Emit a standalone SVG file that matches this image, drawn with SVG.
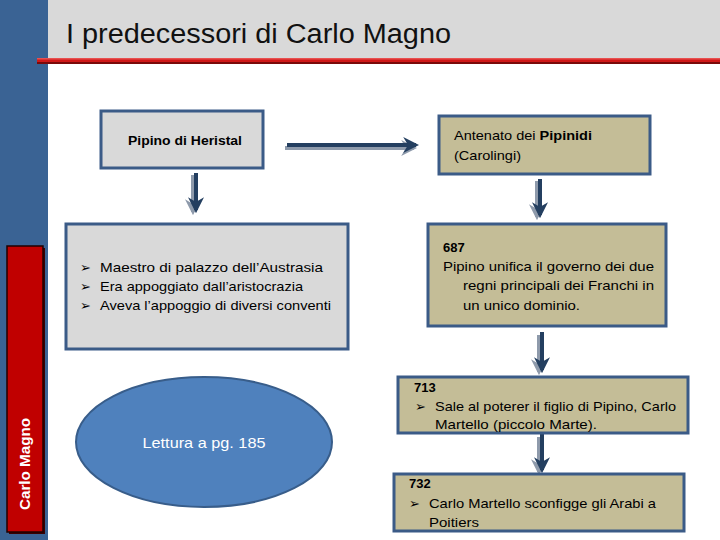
<svg xmlns="http://www.w3.org/2000/svg" width="720" height="540" viewBox="0 0 720 540">
<style>
.t{font-family:"Liberation Sans",Arial,sans-serif;font-size:13px;fill:#000}
.b{font-weight:bold}
.gray{fill:#d9d9d9;stroke:#3b5b87;stroke-width:3}
.tan{fill:#c4bd97;stroke:#3b5b87;stroke-width:3}
.shaft{stroke:#243f60;stroke-width:4;fill:none}
.shadow{stroke:#8e9aab;stroke-width:4;fill:none}
.head{fill:#243f60}
.headsh{fill:#8e9aab}
</style>
<defs>
<marker id="ah" viewBox="0 0 10 10" refX="8" refY="5" markerWidth="4" markerHeight="4" orient="auto" markerUnits="strokeWidth">
<path d="M0,0 L10,5 L0,10 L3,5 z" fill="#243f60"/>
</marker>
<marker id="ahs" viewBox="0 0 10 10" refX="8" refY="5" markerWidth="4" markerHeight="4" orient="auto" markerUnits="strokeWidth">
<path d="M0,0 L10,5 L0,10 L3,5 z" fill="#8e9aab"/>
</marker>
</defs>
<rect x="0" y="0" width="720" height="540" fill="#fff"/>
<g id="frame">
<rect x="0" y="0" width="48" height="540" fill="#3a6394"/>
<rect x="48" y="0" width="672" height="60" fill="#d9d9d9"/>
<rect x="37" y="60" width="683" height="4" fill="#7a0a0a"/>
<rect x="37" y="58" width="683" height="4" fill="#d01818"/>
<rect x="37" y="58" width="683" height="1.5" fill="#e85050"/>
<text x="66" y="43" font-family="Liberation Sans,Arial,sans-serif" font-size="27" fill="#111" textLength="385" lengthAdjust="spacingAndGlyphs">I predecessori di Carlo Magno</text>
</g>
<g id="side-label">
<rect x="9" y="248" width="36" height="286" fill="#3a0000"/>
<rect x="7" y="246" width="36" height="286" fill="#c00000" stroke="#200000" stroke-width="1.5"/>
<text transform="translate(30,464) rotate(-90)" text-anchor="middle" font-family="Liberation Sans,Arial,sans-serif" font-size="14" font-weight="bold" fill="#fff" textLength="92" lengthAdjust="spacingAndGlyphs">Carlo Magno</text>
</g>
<g id="connectors">
<line class="shadow" x1="285" y1="148" x2="414" y2="148" marker-end="url(#ahs)"/>
<line class="shaft" x1="287" y1="145" x2="416" y2="145" marker-end="url(#ah)"/>
<line class="shadow" x1="193" y1="175" x2="193" y2="212" marker-end="url(#ahs)"/>
<line class="shaft" x1="196" y1="173" x2="196" y2="210" marker-end="url(#ah)"/>
<line class="shadow" x1="537" y1="181" x2="537" y2="217" marker-end="url(#ahs)"/>
<line class="shaft" x1="540" y1="179" x2="540" y2="215" marker-end="url(#ah)"/>
<line class="shadow" x1="539" y1="335" x2="539" y2="372" marker-end="url(#ahs)"/>
<line class="shaft" x1="542" y1="332" x2="542" y2="370" marker-end="url(#ah)"/>
<line class="shadow" x1="539" y1="437" x2="539" y2="472" marker-end="url(#ahs)"/>
<line class="shaft" x1="542" y1="434" x2="542" y2="470" marker-end="url(#ah)"/>
</g>
<g id="pipino">
<rect class="gray" x="101" y="111" width="162" height="57"/>
<text class="t" x="128" y="145" font-weight="600" textLength="114" lengthAdjust="spacingAndGlyphs">Pipino di Heristal</text>
</g>
<g id="antenato">
<rect class="tan" x="439" y="116" width="211" height="58"/>
<text class="t" x="454" y="140" textLength="138" lengthAdjust="spacingAndGlyphs">Antenato dei <tspan class="b">Pipinidi</tspan></text>
<text class="t" x="454" y="160" textLength="67" lengthAdjust="spacingAndGlyphs">(Carolingi)</text>
</g>
<g id="bullets">
<rect class="gray" x="66" y="224" width="282" height="125"/>
<text class="t" x="80" y="272">➢</text>
<text class="t" x="80" y="291">➢</text>
<text class="t" x="80" y="310">➢</text>
<text class="t" x="100" y="272" textLength="223" lengthAdjust="spacingAndGlyphs">Maestro di palazzo dell’Austrasia</text>
<text class="t" x="100" y="291" textLength="203" lengthAdjust="spacingAndGlyphs">Era appoggiato dall’aristocrazia</text>
<text class="t" x="100" y="310" textLength="231" lengthAdjust="spacingAndGlyphs">Aveva l’appoggio di diversi conventi</text>
</g>
<g id="y687">
<rect class="tan" x="428" y="224" width="238" height="102"/>
<text class="t b" x="443" y="252">687</text>
<text class="t" x="443" y="271" textLength="211" lengthAdjust="spacingAndGlyphs">Pipino unifica il governo dei due</text>
<text class="t" x="463" y="290" textLength="191" lengthAdjust="spacingAndGlyphs">regni principali dei Franchi in</text>
<text class="t" x="463" y="310" textLength="117" lengthAdjust="spacingAndGlyphs">un unico dominio.</text>
</g>
<g id="lettura">
<ellipse cx="204" cy="442" rx="128" ry="65" fill="#4f81bd" stroke="#385d8a" stroke-width="2"/>
<text x="204" y="448" text-anchor="middle" font-family="Liberation Sans,Arial,sans-serif" font-size="15" fill="#fff" textLength="123" lengthAdjust="spacingAndGlyphs">Lettura a pg. 185</text>
</g>
<g id="y713">
<rect class="tan" x="398" y="377" width="290" height="56"/>
<text class="t b" x="414" y="392">713</text>
<text class="t" x="415" y="411">➢</text>
<text class="t" x="435" y="411" textLength="241" lengthAdjust="spacingAndGlyphs">Sale al poterer il figlio di Pipino, Carlo</text>
<text class="t" x="435" y="429" textLength="162" lengthAdjust="spacingAndGlyphs">Martello (piccolo Marte).</text>
</g>
<g id="y732">
<rect class="tan" x="394" y="474" width="290" height="57"/>
<text class="t b" x="409" y="488">732</text>
<text class="t" x="409" y="508">➢</text>
<text class="t" x="429" y="508" textLength="227" lengthAdjust="spacingAndGlyphs">Carlo Martello sconfigge gli Arabi a</text>
<text class="t" x="429" y="527" textLength="50" lengthAdjust="spacingAndGlyphs">Poitiers</text>
</g>
</svg>
